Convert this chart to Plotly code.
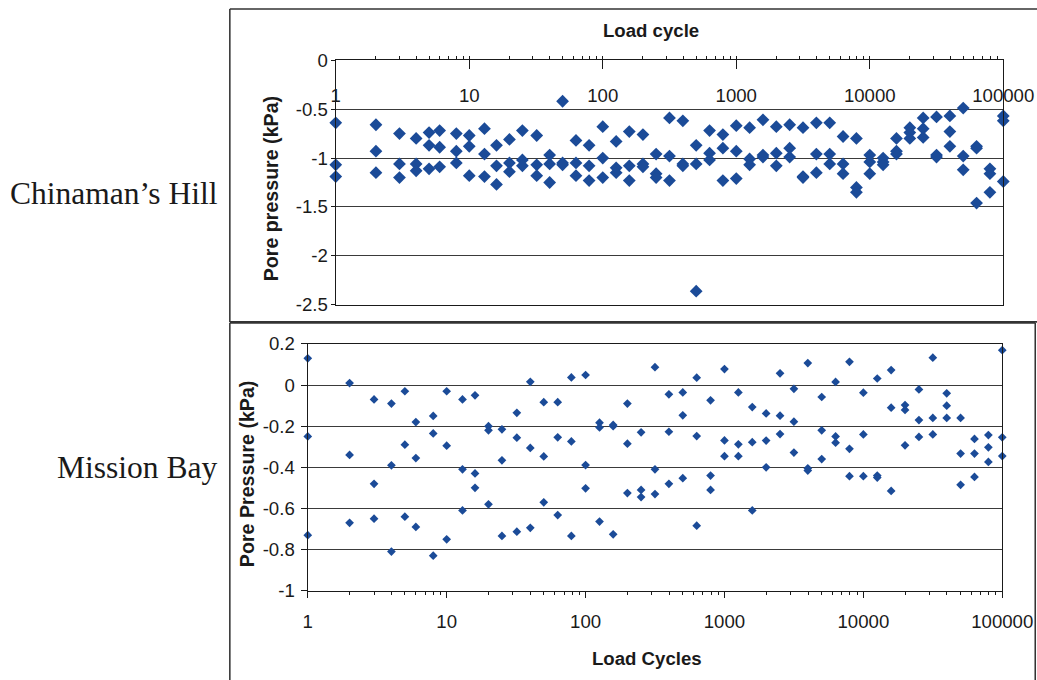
import plotly.graph_objects as go

# The photographed page shows the figure slightly reduced and offset; every position
# below is written in target-picture pixels and converted to figure pixels.
S = 0.967            # picture px per figure px
TX, TY = 4.0, 10.0   # picture offset of the figure origin
FW, FH = 1068, 695   # figure size in figure px (covers the whole picture)

# ---------------- data ----------------
load_cycles = [1, 2, 3, 4, 5, 6, 8, 10, 13, 16, 20, 25, 32, 40, 50, 63, 79, 100,
               126, 158, 200, 251, 316, 398, 501, 631, 794, 1000, 1259, 1585, 1995,
               2512, 3162, 3981, 5012, 6310, 7943, 10000, 12589, 15849, 19953, 25119,
               31623, 39811, 50119, 63096, 79433, 100000]

# Chinaman's Hill pore pressure (kPa), three readings per load cycle
ch_upper = [-0.64, -0.66, -0.75, -0.80, -0.74, -0.72, -0.75, -0.77, -0.70, -0.87,
            -0.81, -0.72, -0.77, -0.97, -0.42, -0.82, -0.87, -0.68, -0.83, -0.73,
            -0.76, -0.96, -0.59, -0.62, -0.87, -0.72, -0.76, -0.67, -0.69, -0.61,
            -0.68, -0.66, -0.69, -0.64, -0.64, -0.78, -0.80, -0.97, -1.00, -0.80,
            -0.69, -0.59, -0.58, -0.57, -0.49, -0.88, -1.11, -0.57]
ch_middle = [-1.07, -0.93, -1.06, -1.06, -0.87, -0.89, -0.93, -0.88, -0.96, -1.08,
             -1.05, -1.02, -1.07, -1.06, -1.05, -1.05, -1.08, -1.00, -1.10, -1.08,
             -1.06, -1.16, -0.98, -1.06, -1.06, -0.95, -0.90, -0.93, -1.01, -0.97,
             -0.95, -0.90, -1.19, -0.96, -0.96, -1.06, -1.30, -1.04, -1.04, -0.93,
             -0.74, -0.70, -0.97, -0.73, -0.98, -0.90, -1.16, -0.62]
ch_lower = [-1.19, -1.15, -1.20, -1.13, -1.11, -1.09, -1.05, -1.18, -1.19, -1.27,
            -1.14, -1.08, -1.18, -1.25, -1.07, -1.18, -1.23, -1.20, -1.15, -1.23,
            -1.09, -1.20, -1.23, -1.08, -2.36, -1.02, -1.23, -1.21, -1.07, -0.99,
            -1.08, -0.99, -1.20, -1.15, -1.06, -1.16, -1.35, -1.16, -1.07, -0.96,
            -0.80, -0.79, -0.99, -0.88, -1.12, -1.46, -1.35, -1.24]

# Mission Bay pore pressure (kPa), three readings per load cycle
mb_upper = [0.13, 0.01, -0.07, -0.09, -0.03, -0.18, -0.15, -0.03, -0.07, -0.05,
            -0.20, -0.215, -0.135, 0.016, -0.083, -0.083, 0.037, 0.049, -0.183, -0.194,
            -0.09, -0.23, 0.087, -0.045, -0.036, 0.036, -0.074, 0.078, -0.036, -0.107,
            -0.138, 0.057, -0.018, 0.107, -0.058, 0.015, 0.113, -0.037, 0.032, 0.073,
            -0.097, -0.021, 0.133, -0.04, -0.16, -0.262, -0.243, 0.17]
mb_middle = [-0.25, -0.34, -0.48, -0.39, -0.29, -0.355, -0.235, -0.295, -0.41, -0.43,
             -0.22, -0.366, -0.256, -0.306, -0.347, -0.254, -0.274, -0.389, -0.206, -0.20,
             -0.285, -0.51, -0.41, -0.227, -0.147, -0.248, -0.44, -0.269, -0.288, -0.278,
             -0.27, -0.149, -0.178, -0.405, -0.22, -0.25, -0.31, -0.24, -0.44, -0.11,
             -0.121, -0.17, -0.16, -0.10, -0.333, -0.333, -0.303, -0.254]
mb_lower = [-0.73, -0.67, -0.65, -0.81, -0.64, -0.69, -0.83, -0.75, -0.61, -0.50,
            -0.58, -0.734, -0.713, -0.694, -0.57, -0.632, -0.734, -0.502, -0.664, -0.726,
            -0.525, -0.545, -0.53, -0.48, -0.453, -0.684, -0.51, -0.346, -0.346, -0.61,
            -0.40, -0.238, -0.328, -0.416, -0.36, -0.28, -0.443, -0.443, -0.45, -0.515,
            -0.293, -0.252, -0.24, -0.16, -0.485, -0.447, -0.374, -0.345]

x_tick_vals = [1, 10, 100, 1000, 10000, 100000]
x_tick_text = ["1", "10", "100", "1000", "10000", "100000"]
ch_y_vals = [0, -0.5, -1, -1.5, -2, -2.5]
ch_y_text = ["0", "-0.5", "-1", "-1.5", "-2", "-2.5"]
mb_y_vals = [0.2, 0, -0.2, -0.4, -0.6, -0.8, -1]
mb_y_text = ["0.2", "0", "-0.2", "-0.4", "-0.6", "-0.8", "-1"]

# ---------------- style ----------------
BLUE = "#1b4b98"
INK = "#1a1a1a"
GRID = "#3a3a3a"
FRAME = "#333333"
SANS = "Liberation Sans, Arial, sans-serif"
SERIF = "Liberation Serif, Times New Roman, serif"


def fx(p):
    """picture x (px) -> paper fraction"""
    return ((p - TX) / S) / FW


def fy(p):
    """picture y (px, from top) -> paper fraction"""
    return 1 - ((p - TY) / S) / FH


def sz(v):
    """picture size (px) -> figure size"""
    return v / S


def isz(v):
    return int(round(v / S))


fig = go.Figure()
for series in (ch_upper, ch_middle, ch_lower):
    fig.add_trace(go.Scatter(x=load_cycles, y=series, mode="markers", xaxis="x", yaxis="y",
                             marker=dict(symbol="diamond", size=sz(9.5), color=BLUE),
                             cliponaxis=False, showlegend=False, hoverinfo="x+y"))
for series in (mb_upper, mb_middle, mb_lower):
    fig.add_trace(go.Scatter(x=load_cycles, y=series, mode="markers", xaxis="x2", yaxis="y2",
                             marker=dict(symbol="diamond", size=sz(6.5), color=BLUE),
                             cliponaxis=False, showlegend=False, hoverinfo="x+y"))

tickfont = dict(family=SANS, size=sz(18), color=INK)
LW = sz(1.2)

fig.update_layout(
    width=FW, height=FH,
    margin=dict(l=0, r=0, t=0, b=0),
    paper_bgcolor="white", plot_bgcolor="white",
    font=dict(family=SANS, color=INK),
    xaxis=dict(
        type="log", range=[0, 5], domain=[fx(335), fx(1003)], anchor="y",
        side="top", tickvals=x_tick_vals, ticktext=x_tick_text, tickfont=tickfont,
        ticks="inside", ticklen=sz(8), tickcolor=INK, tickwidth=1,
        ticklabelposition="inside", ticklabelstandoff=isz(20), ticklabeloverflow="allow",
        minor=dict(ticks="outside", ticklen=sz(3), tickcolor=INK, dtick="D1", showgrid=False),
        showline=True, linecolor=INK, linewidth=LW, mirror=True,
        showgrid=False, zeroline=False,
    ),
    yaxis=dict(
        range=[-2.5, 0], domain=[fy(304), fy(60)], anchor="x",
        tickvals=ch_y_vals, ticktext=ch_y_text, tickfont=tickfont,
        ticks="outside", ticklen=sz(4), tickcolor=INK, ticklabelstandoff=-1,
        showline=True, linecolor=INK, linewidth=LW, mirror=True,
        showgrid=True, gridcolor=GRID, gridwidth=1, zeroline=False,
    ),
    xaxis2=dict(
        type="log", range=[0, 5], domain=[fx(307), fx(1002)], anchor="y2",
        side="bottom", tickvals=x_tick_vals, ticktext=x_tick_text, tickfont=tickfont,
        ticks="outside", ticklen=sz(6), tickcolor=INK, ticklabelstandoff=isz(8),
        ticklabeloverflow="allow",
        minor=dict(ticks="outside", ticklen=sz(3), tickcolor=INK, dtick="D1", showgrid=False),
        showline=True, linecolor=INK, linewidth=LW, mirror=True,
        showgrid=False, zeroline=False,
    ),
    yaxis2=dict(
        range=[-1, 0.2], domain=[fy(589), fy(343)], anchor="x2",
        tickvals=mb_y_vals, ticktext=mb_y_text, tickfont=tickfont,
        ticks="outside", ticklen=sz(5), tickcolor=INK, ticklabelstandoff=isz(3),
        showline=True, linecolor=INK, linewidth=LW, mirror=True,
        showgrid=True, gridcolor=GRID, gridwidth=1, zeroline=False,
    ),
)

# outer frames of the two panels (edges that run off the picture end at its edge)
frame_segments = [
    (229, 9, 1037, 9),       # top panel: top edge
    (229, 9, 229, 321),      # top panel: left edge
    (229, 321, 1037, 321),   # top panel: bottom edge
    (229, 322, 1035, 322),   # bottom panel: top edge
    (229, 322, 229, 680),    # bottom panel: left edge
    (1035, 322, 1035, 680),  # bottom panel: right edge
]
for x0, y0, x1, y1 in frame_segments:
    fig.add_shape(type="line", xref="paper", yref="paper",
                  x0=fx(x0), x1=fx(x1), y0=fy(y0), y1=fy(y1),
                  line=dict(color=FRAME, width=sz(1.5)))

ann = [
    dict(text="<b>Load cycle</b>", x=fx(650), y=fy(30), font=dict(size=sz(18), family=SANS)),
    dict(text="<b>Pore pressure (kPa)</b>", x=fx(270), y=fy(188), textangle=-90,
         font=dict(size=sz(19), family=SANS)),
    dict(text="<b>Load Cycles</b>", x=fx(646), y=fy(657), font=dict(size=sz(18), family=SANS)),
    dict(text="<b>Pore Pressure (kPa)</b>", x=fx(247), y=fy(472), textangle=-90,
         font=dict(size=sz(19), family=SANS)),
]
for a in ann:
    fig.add_annotation(xref="paper", yref="paper", showarrow=False,
                       xanchor="center", yanchor="middle", font_color=INK, **a)

fig.add_annotation(text="Chinaman’s Hill", xref="paper", yref="paper", x=fx(219), y=fy(193),
                   xanchor="right", yanchor="middle", showarrow=False,
                   font=dict(family=SERIF, size=sz(30.5), color=INK))
fig.add_annotation(text="Mission Bay", xref="paper", yref="paper", x=fx(219), y=fy(466),
                   xanchor="right", yanchor="middle", showarrow=False,
                   font=dict(family=SERIF, size=sz(30.5), color=INK))

fig.write_html("out.html")
